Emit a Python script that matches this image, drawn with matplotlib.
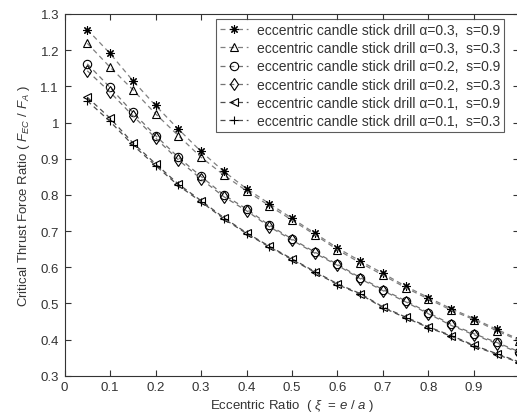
import matplotlib
matplotlib.use("Agg")
import matplotlib.pyplot as plt

plt.rcParams['font.family'] = ['Liberation Sans', 'DejaVu Sans']
plt.rcParams['mathtext.fontset'] = 'custom'
plt.rcParams['mathtext.rm'] = 'Liberation Sans'
plt.rcParams['mathtext.it'] = 'Liberation Sans:italic'

# razao de excentricidade
xi = [0.05, 0.10, 0.15, 0.20, 0.25, 0.30, 0.35, 0.40, 0.45, 0.50,
      0.55, 0.60, 0.65, 0.70, 0.75, 0.80, 0.85, 0.90, 0.95, 1.00]

# razao de forca critica
a3_s9 = [1.257, 1.191, 1.116, 1.047, 0.982, 0.920, 0.865, 0.817, 0.776, 0.735,
         0.694, 0.653, 0.617, 0.583, 0.547, 0.516, 0.485, 0.458, 0.428, 0.400]
a3_s3 = [1.219, 1.153, 1.091, 1.024, 0.964, 0.904, 0.855, 0.811, 0.770, 0.730,
         0.690, 0.648, 0.612, 0.578, 0.543, 0.512, 0.481, 0.455, 0.424, 0.397]
a2_s9 = [1.162, 1.097, 1.028, 0.964, 0.904, 0.851, 0.800, 0.761, 0.716, 0.678,
         0.642, 0.608, 0.571, 0.538, 0.507, 0.474, 0.442, 0.416, 0.392, 0.366]
a2_s3 = [1.143, 1.084, 1.019, 0.957, 0.897, 0.844, 0.795, 0.756, 0.712, 0.675,
         0.639, 0.605, 0.568, 0.535, 0.504, 0.471, 0.439, 0.413, 0.389, 0.363]
a1_s9 = [1.070, 1.012, 0.944, 0.886, 0.830, 0.784, 0.737, 0.695, 0.658, 0.623,
         0.588, 0.554, 0.527, 0.490, 0.462, 0.435, 0.411, 0.384, 0.361, 0.338]
a1_s3 = [1.060, 1.003, 0.938, 0.881, 0.826, 0.781, 0.734, 0.693, 0.656, 0.621,
         0.586, 0.552, 0.525, 0.488, 0.460, 0.433, 0.409, 0.382, 0.359, 0.336]

labels = [
    "eccentric candle stick drill \u03b1=0.3,  s=0.9",
    "eccentric candle stick drill \u03b1=0.3,  s=0.3",
    "eccentric candle stick drill \u03b1=0.2,  s=0.9",
    "eccentric candle stick drill \u03b1=0.2,  s=0.3",
    "eccentric candle stick drill \u03b1=0.1,  s=0.9",
    "eccentric candle stick drill \u03b1=0.1,  s=0.3",
]
series = [a3_s9, a3_s3, a2_s9, a2_s3, a1_s9, a1_s3]
markers = [(8, 2, 0), '^', 'o', 'd', '<', '+']
line_gray = ['0.5', '0.5', '0.45', '0.45', '0.3', '0.3']

fig = plt.figure(figsize=(5.17, 4.14), dpi=100)
ax = fig.add_axes([0.1248, 0.0901, 0.880, 0.8737])

for y, m, c, lab in zip(series, markers, line_gray, labels):
    ax.plot(xi, y, linestyle='--', color=c, linewidth=0.9, dashes=(4, 3),
            marker=m, markersize=6, markerfacecolor='none',
            markeredgecolor='k', markeredgewidth=0.8, label=lab)

ax.set_xlim(0, 1)
ax.set_ylim(0.3, 1.3)
ax.set_xticks([0, 0.1, 0.2, 0.3, 0.4, 0.5, 0.6, 0.7, 0.8, 0.9, 1.0])
# o rotulo "1" fica fora da figura recortada
ax.set_xticklabels(["0", "0.1", "0.2", "0.3", "0.4", "0.5", "0.6", "0.7", "0.8", "0.9", ""])
ax.set_yticks([0.3, 0.4, 0.5, 0.6, 0.7, 0.8, 0.9, 1.0, 1.1, 1.2, 1.3])
ax.set_yticklabels(["0.3", "0.4", "0.5", "0.6", "0.7", "0.8", "0.9", "1", "1.1", "1.2", "1.3"])
ax.tick_params(direction='in', top=True, right=True, length=4, width=0.8,
               labelsize=9.5, colors='#333333', pad=4)
for s in ax.spines.values():
    s.set_linewidth(0.8)
    s.set_color('#333333')

ax.set_xlabel(r"Eccentric Ratio  ( $\xi$  = $e$ / $a$ )", fontsize=9.5, color='#333333', labelpad=3)
ax.set_ylabel(r"Critical Thrust Force Ratio ( $F_{EC}$ / $F_A$ )", fontsize=9.5, color='#333333', labelpad=6)

leg = ax.legend(loc='upper right', bbox_to_anchor=(0.975, 0.952),
                bbox_transform=fig.transFigure, fontsize=10,
                frameon=True, fancybox=False, edgecolor='#333333',
                handlelength=2.0, handletextpad=0.6, labelspacing=0.3,
                borderpad=0.3, borderaxespad=0)
leg.get_frame().set_linewidth(0.8)
for t in leg.get_texts():
    t.set_color('#333333')

fig.savefig("out.png", dpi=100)
